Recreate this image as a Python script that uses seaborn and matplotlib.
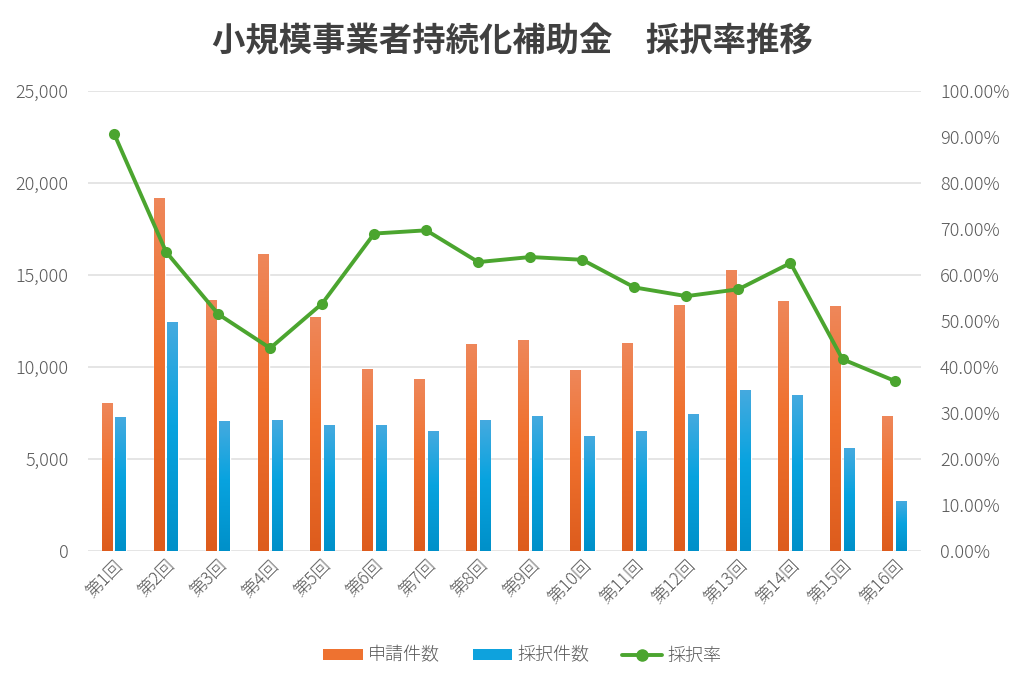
import numpy as np
import pandas as pd
import matplotlib
matplotlib.use('Agg')
import matplotlib.pyplot as plt
import seaborn as sns
from matplotlib.colors import LinearSegmentedColormap
from matplotlib.lines import Line2D
from matplotlib.patches import Patch
from matplotlib.ticker import FuncFormatter, MultipleLocator

rounds = ['第1回', '第2回', '第3回', '第4回', '第5回', '第6回', '第7回', '第8回',
          '第9回', '第10回', '第11回', '第12回', '第13回', '第14回', '第15回', '第16回']
applications = [8000, 19130, 13590, 16090, 12700, 9870, 9290, 11230,
                11410, 9800, 11250, 13320, 15250, 13570, 13280, 7320]
adopted = [7270, 12430, 7010, 7080, 6830, 6790, 6490, 7070,
           7300, 6210, 6470, 7410, 8700, 8460, 5540, 2700]
rate = [90.7, 65.0, 51.5, 44.1, 53.8, 69.0, 69.7, 62.8,
        63.9, 63.3, 57.3, 55.4, 56.9, 62.6, 41.7, 37.0]

series_names = ['申請件数', '採択件数', '採択率']
title = '小規模事業者持続化補助金　採択率推移'

ORANGE = '#EE7230'
BLUE = '#0EA2DD'
GREEN = '#4BA52F'
TEXT = '#595959'

sns.set_theme(style='white')
plt.rcParams['font.family'] = ['Noto Sans CJK JP', 'DejaVu Sans']

df = pd.DataFrame({
    'round': rounds * 2,
    'count': applications + adopted,
    'series': [series_names[0]] * len(rounds) + [series_names[1]] * len(rounds),
})

fig = plt.figure(figsize=(10.24, 6.83), dpi=100)
ax = fig.add_axes([0.086, 0.193, 0.813, 0.674])

sns.barplot(data=df, x='round', y='count', hue='series', ax=ax,
            palette={series_names[0]: ORANGE, series_names[1]: BLUE},
            width=0.52, gap=0.2, legend=False, saturation=1)


def shade_bars(ax, container, top, mid, bottom):
    # vertical gradient on each bar, lighter at the top
    cmap = LinearSegmentedColormap.from_list(
        'grad', [(0, bottom), (0.55, mid), (1, top)])
    grad = np.linspace(0, 1, 256).reshape(-1, 1)
    for bar in container:
        x0, y0 = bar.get_x(), bar.get_y()
        w, h = bar.get_width(), bar.get_height()
        ax.imshow(grad, cmap=cmap, origin='lower', aspect='auto',
                  extent=(x0, x0 + w, y0, y0 + h), zorder=bar.get_zorder() + 0.1)


shade_bars(ax, ax.containers[0], '#EE875A', '#F0712E', '#DD5C1D')
shade_bars(ax, ax.containers[1], '#45AADF', '#08A3DF', '#0090C9')

ax.set_xlim(-0.5, len(rounds) - 0.5)
ax.set_ylim(0, 25000)
ax.yaxis.set_major_locator(MultipleLocator(5000))
ax.yaxis.set_major_formatter(FuncFormatter(lambda v, p: f'{int(v):,}'))
ax.grid(axis='y', color='#E0E0E0', linewidth=1.2)
ax.set_axisbelow(True)
ax.set_xlabel('')
ax.set_ylabel('')
for s in ax.spines.values():
    s.set_visible(False)
ax.tick_params(axis='y', length=0, pad=14, labelsize=13, labelcolor=TEXT)
ax.tick_params(axis='x', length=0, pad=4, labelsize=12.5, labelcolor=TEXT)
for lab in ax.get_xticklabels() + ax.get_yticklabels():
    lab.set_fontweight('light')
for lab in ax.get_xticklabels():
    lab.set_rotation(45)
    lab.set_ha('right')
    lab.set_rotation_mode('anchor')

ax2 = ax.twinx()
sns.lineplot(x=np.arange(len(rounds)), y=rate, ax=ax2, color=GREEN,
             linewidth=2.8, marker='o', markersize=8, markeredgewidth=0,
             legend=False)
ax2.set_ylim(0, 100)
ax2.yaxis.set_major_locator(MultipleLocator(10))
ax2.yaxis.set_major_formatter(FuncFormatter(lambda v, p: f'{v:.2f}%'))
ax2.grid(False)
for s in ax2.spines.values():
    s.set_visible(False)
ax2.tick_params(axis='y', length=0, pad=14, labelsize=13, labelcolor=TEXT)
for lab in ax2.get_yticklabels():
    lab.set_fontweight('light')
ax2.set_xlim(-0.5, len(rounds) - 0.5)

fig.text(0.5, 1 - 42 / 683, title, ha='center', va='center',
         fontsize=24, fontweight='bold', color='#404040')

handles = [
    Patch(facecolor=ORANGE, edgecolor='none'),
    Patch(facecolor=BLUE, edgecolor='none'),
    Line2D([0], [0], color=GREEN, linewidth=2.8, marker='o', markersize=8),
]
leg = fig.legend(handles, series_names, loc='center', bbox_to_anchor=(0.51, 0.04),
                 ncol=3, frameon=False, fontsize=13, handlelength=2.2,
                 handleheight=0.6, columnspacing=1.8, handletextpad=0.3)
for t in leg.get_texts():
    t.set_color(TEXT)
    t.set_fontweight('light')

fig.savefig('out.png', dpi=100)
